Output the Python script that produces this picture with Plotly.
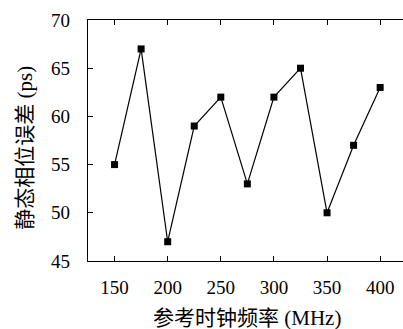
import plotly.graph_objects as go

freq_mhz = [150, 175, 200, 225, 250, 275, 300, 325, 350, 375, 400]
phase_err_ps = [55, 67, 47, 59, 62, 53, 62, 65, 50, 57, 63]
x_ticks = [150, 200, 250, 300, 350, 400]
y_ticks = [45, 50, 55, 60, 65, 70]
x_title = "参考时钟频率 (MHz)"
y_title = "静态相位误差 (ps)"

NUM_FONT = "Times New Roman, Liberation Serif, serif"
FONT = "Times New Roman, Liberation Serif, Noto Sans CJK SC, serif"

fig = go.Figure()
fig.add_trace(go.Scatter(
    x=freq_mhz, y=phase_err_ps, mode="lines+markers",
    line=dict(color="black", width=1.2),
    marker=dict(symbol="square", size=7, color="black"),
    showlegend=False, cliponaxis=False,
))

axis_common = dict(
    showgrid=False, zeroline=False, showline=True, linecolor="black", linewidth=1.2,
    ticks="inside", ticklen=5, tickwidth=1, tickcolor="black", automargin=False,
    tickfont=dict(family=NUM_FONT, size=19, color="black"),
)
fig.update_xaxes(range=[125, 421.5], tickvals=x_ticks, mirror="ticks",
                 ticklabelstandoff=9, **axis_common)
fig.update_yaxes(range=[45, 70], tickvals=y_ticks, mirror=False,
                 ticklabelstandoff=13, **axis_common)

fig.add_annotation(text=x_title, xref="paper", yref="paper", x=0.506, y=-0.237,
                   showarrow=False, yanchor="middle",
                   font=dict(family=FONT, size=21, color="black"))
fig.add_annotation(text=y_title, xref="paper", yref="paper", x=-0.2, y=0.47,
                   showarrow=False, textangle=-90, xanchor="center",
                   font=dict(family=FONT, size=21, color="black"))

fig.update_layout(
    width=403, height=329,
    margin=dict(l=88, r=0, t=20, b=68, autoexpand=False),
    paper_bgcolor="white", plot_bgcolor="white",
    font=dict(family=FONT, color="black"),
)
fig.write_html("out.html", config={"displayModeBar": False},
               post_script="document.body.style.margin='0';document.body.style.overflow='hidden';")
